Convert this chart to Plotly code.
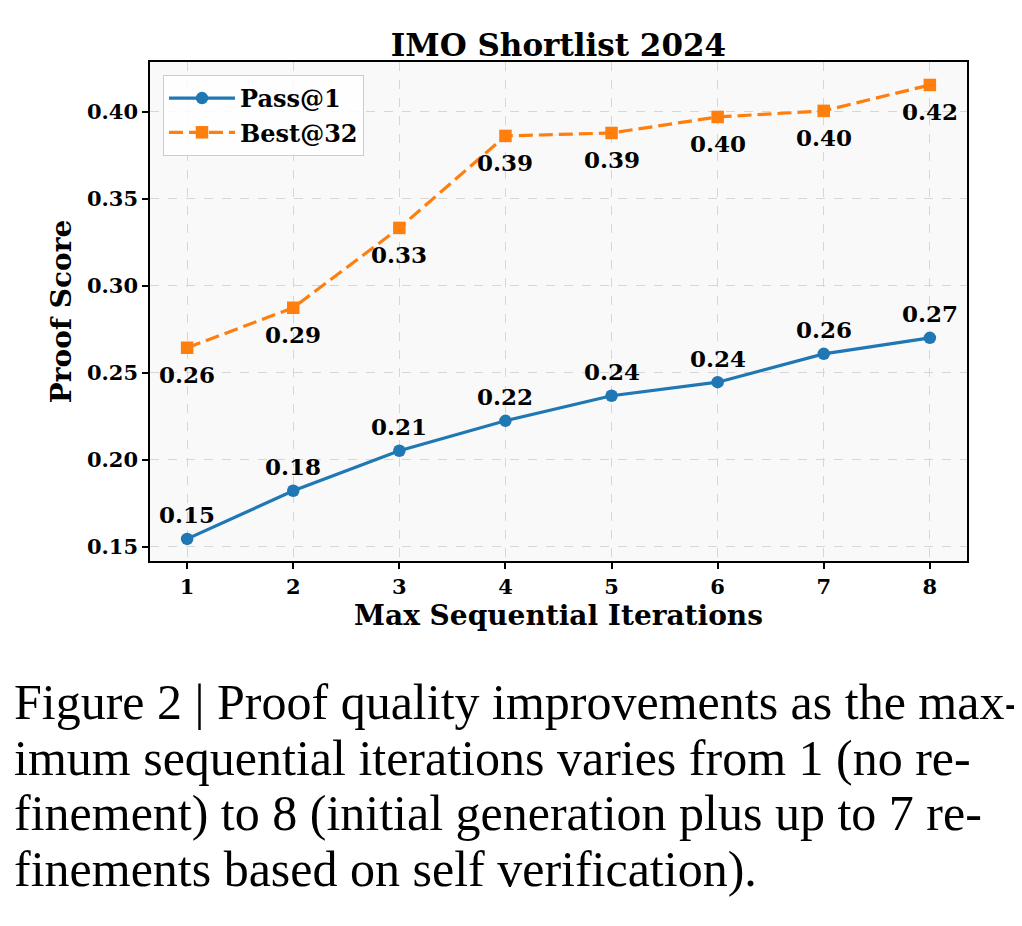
import plotly.graph_objects as go

# data
iterations = [1, 2, 3, 4, 5, 6, 7, 8]
pass_at_1 = [0.1545, 0.1822, 0.2052, 0.2224, 0.2368, 0.2446, 0.2609, 0.2701]
best_at_32 = [0.2644, 0.2874, 0.3333, 0.3862, 0.3879, 0.3971, 0.4006, 0.4155]
y_ticks = [0.15, 0.20, 0.25, 0.30, 0.35, 0.40]

caption_lines = [
    "Figure 2 | Proof quality improvements as the max-",
    "imum sequential iterations varies from 1 (no re-",
    "finement) to 8 (initial generation plus up to 7 re-",
    "finements based on self verification).",
]

BLUE = "#1f77b4"
ORANGE = "#ff7f0e"
SERIF = "DejaVu Serif"

# page body has an 8px margin, so the figure is a bit smaller than the window
OFF = 8
W, H = 1022 - OFF, 926 - OFF
# plot box in window pixels: left 150, right 967, top 62, bottom 561
M_L, M_R, M_T, M_B = 150 - OFF, W - (967 - OFF), 62 - OFF, H - (561 - OFF)
PLOT_W = W - M_L - M_R
PLOT_H = H - M_T - M_B


def px_to_paper_y(y_px):
    # window pixel row -> paper coordinate
    return (H - M_B - (y_px - OFF)) / PLOT_H


def px_to_paper_x(x_px):
    return ((x_px - OFF) - M_L) / PLOT_W


fig = go.Figure()

fig.add_trace(go.Scatter(
    x=iterations, y=pass_at_1, name="Pass@1",
    mode="lines+markers",
    line=dict(color=BLUE, width=3.2),
    marker=dict(symbol="circle", size=12.5, color=BLUE),
))
fig.add_trace(go.Scatter(
    x=iterations, y=best_at_32, name="Best@32",
    mode="lines+markers",
    line=dict(color=ORANGE, width=3.2, dash="14px,6px"),
    marker=dict(symbol="square", size=12.5, color=ORANGE),
))

# value labels: above for Pass@1, below for Best@32
label_font = dict(family=SERIF, size=23, color="black", weight="bold")
for xi, yi in zip(iterations, pass_at_1):
    fig.add_annotation(x=xi, y=yi, text="%.2f" % yi, showarrow=False,
                       yshift=24, font=label_font)
for xi, yi in zip(iterations, best_at_32):
    fig.add_annotation(x=xi, y=yi, text="%.2f" % yi, showarrow=False,
                       yshift=-27, font=label_font)

# caption under the chart
for i, line in enumerate(caption_lines):
    fig.add_annotation(xref="paper", yref="paper",
                       x=px_to_paper_x(12), y=px_to_paper_y(702 + 55.7 * i),
                       xanchor="left", yanchor="middle", showarrow=False,
                       text=line, align="left",
                       font=dict(family="Liberation Serif", size=50, color="black"))

axis_common = dict(
    showline=True, linecolor="black", linewidth=1.5, mirror=True,
    ticks="outside", ticklen=6, tickwidth=1.5, tickcolor="black",
    showgrid=True, gridcolor="#d6d6d6", gridwidth=0.8, griddash="dash",
    zeroline=False,
    tickfont=dict(family=SERIF, size=21, color="black", weight="bold"),
)

fig.update_xaxes(
    range=[0.65, 8.35], tickvals=iterations,
    title=dict(text="Max Sequential Iterations", standoff=4,
               font=dict(family=SERIF, size=28, color="black", weight="bold")),
    **axis_common,
)
fig.update_yaxes(
    range=[0.1418, 0.4287], tickvals=y_ticks, tickformat=".2f",
    title=dict(text="Proof Score", standoff=7,
               font=dict(family=SERIF, size=28, color="black", weight="bold")),
    **axis_common,
)

fig.update_layout(
    width=W, height=H,
    margin=dict(l=M_L, r=M_R, t=M_T, b=M_B),
    paper_bgcolor="white",
    plot_bgcolor="#f9f9f9",
    title=dict(text="IMO Shortlist 2024",
               x=(M_L + PLOT_W / 2) / W, xanchor="center",
               y=1 - (45 - OFF) / H, yanchor="middle",
               font=dict(family=SERIF, size=31, color="black", weight="bold")),
    legend=dict(x=px_to_paper_x(163), y=px_to_paper_y(75), xanchor="left", yanchor="top",
                bgcolor="rgba(255,255,255,0.85)", bordercolor="#cccccc", borderwidth=1,
                font=dict(family=SERIF, size=24, color="black", weight="bold"),
                itemwidth=66, tracegroupgap=4),
    showlegend=True,
)

fig.write_html("out.html")
